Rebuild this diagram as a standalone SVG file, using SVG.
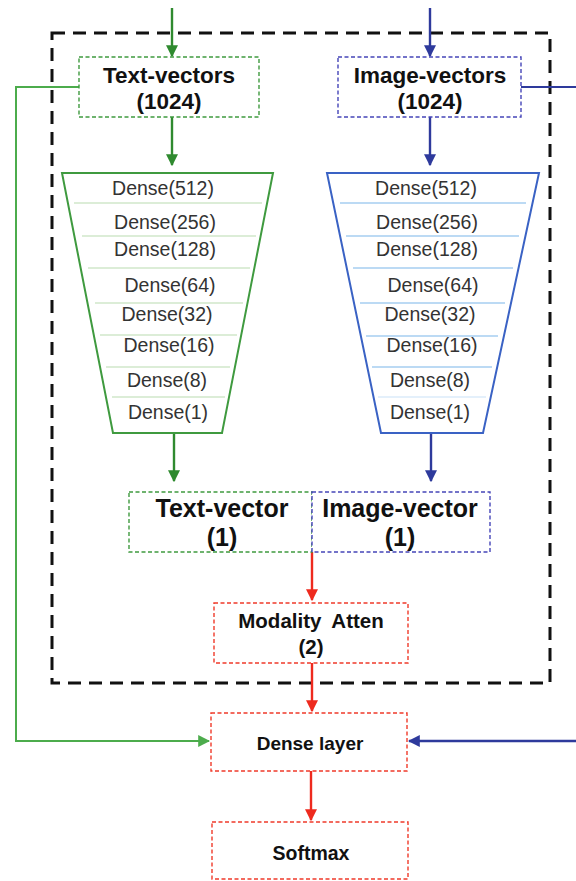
<svg xmlns="http://www.w3.org/2000/svg" width="576" height="881" viewBox="0 0 576 881">
<style>
.tb{font-family:"Liberation Sans",Arial,sans-serif;font-weight:bold;fill:#111;text-anchor:middle}
.dn{font-family:"Liberation Sans",Arial,sans-serif;font-size:19.5px;fill:#333;text-anchor:middle}
.gbox{fill:#fff;stroke:#3f9a3f;stroke-width:1.4;stroke-dasharray:4 2.5}
.bbox{fill:#fff;stroke:#4545b8;stroke-width:1.4;stroke-dasharray:4 2.5}
.rbox{fill:#fff;stroke:#f03a2a;stroke-width:1.4;stroke-dasharray:4 2.5}
.ga{stroke:#2f8a2f;stroke-width:2.4;fill:none}
.ba{stroke:#2e3a9c;stroke-width:2.4;fill:none}
.ra{stroke:#ee2a1e;stroke-width:2.4;fill:none}
.gl{stroke:#b9dcb0;stroke-width:1.2}
.bl{stroke:#7ab6ea;stroke-width:1.2}
</style>
<defs>
<marker id="mg" viewBox="0 0 10 10" refX="9" refY="5" markerWidth="5" markerHeight="5" orient="auto" markerUnits="strokeWidth"><path d="M0,0 L10,5 L0,10 Z" fill="#2f8a2f"/></marker>
<marker id="mg2" viewBox="0 0 10 10" refX="9" refY="5" markerWidth="6" markerHeight="6" orient="auto" markerUnits="strokeWidth"><path d="M0,0 L10,5 L0,10 Z" fill="#4cac4c"/></marker>
<marker id="mb" viewBox="0 0 10 10" refX="9" refY="5" markerWidth="5" markerHeight="5" orient="auto" markerUnits="strokeWidth"><path d="M0,0 L10,5 L0,10 Z" fill="#2e3a9c"/></marker>
<marker id="mr" viewBox="0 0 10 10" refX="9" refY="5" markerWidth="5" markerHeight="5" orient="auto" markerUnits="strokeWidth"><path d="M0,0 L10,5 L0,10 Z" fill="#ee2a1e"/></marker>
</defs>
<rect width="576" height="881" fill="#fff"/>

<g id="outer-frame">
<rect x="52" y="33" width="498" height="650" fill="none" stroke="#111" stroke-width="3" stroke-dasharray="13 8"/>
</g>

<g id="connectors">
<line class="ga" x1="172" y1="8" x2="172" y2="56" marker-end="url(#mg)"/>
<line class="ga" x1="172" y1="117" x2="172" y2="165" marker-end="url(#mg)"/>
<line class="ba" x1="430" y1="8" x2="430" y2="56" marker-end="url(#mb)"/>
<line class="ba" x1="430" y1="117" x2="430" y2="165" marker-end="url(#mb)"/>
<line class="ga" x1="174" y1="433" x2="174" y2="481" marker-end="url(#mg)"/>
<line class="ba" x1="431" y1="433" x2="431" y2="481" marker-end="url(#mb)"/>
<line class="ra" x1="312" y1="552" x2="312" y2="600" marker-end="url(#mr)"/>
<line class="ra" x1="312" y1="663" x2="312" y2="711" marker-end="url(#mr)"/>
<line class="ra" x1="311" y1="771" x2="311" y2="820" marker-end="url(#mr)"/>
<polyline points="79,87 16,87 16,741 209,741" fill="none" stroke="#4cac4c" stroke-width="2" marker-end="url(#mg2)"/>
<line x1="521" y1="87" x2="576" y2="87" stroke="#2e3a9c" stroke-width="2"/>
<line x1="576" y1="741" x2="409" y2="741" stroke="#2e3a9c" stroke-width="2.4" marker-end="url(#mb)"/>
</g>

<g id="text-vectors">
<rect class="gbox" x="79" y="57" width="180" height="60"/>
<text class="tb" x="169" y="83" font-size="22.5">Text-vectors</text>
<text class="tb" x="169" y="109" font-size="22.5">(1024)</text>
</g>

<g id="image-vectors">
<rect class="bbox" x="338" y="57" width="183" height="60"/>
<text class="tb" x="430" y="83" font-size="22.5">Image-vectors</text>
<text class="tb" x="430" y="109" font-size="22.5">(1024)</text>
</g>

<g id="text-dense-stack">
<polygon points="62,173 273,173 222,433 113,433" fill="#fff" stroke="#3f9a3f" stroke-width="2"/>
<line class="gl" x1="74" y1="203" x2="262" y2="203"/>
<line class="gl" x1="82" y1="236" x2="256" y2="236"/>
<line class="gl" x1="88" y1="268" x2="250" y2="268"/>
<line class="gl" x1="95" y1="303" x2="243" y2="303"/>
<line class="gl" x1="100" y1="335" x2="237" y2="335"/>
<line class="gl" x1="106" y1="367" x2="230" y2="367"/>
<line class="gl" x1="112" y1="397" x2="225" y2="397"/>
<text class="dn" x="163" y="195">Dense(512)</text>
<text class="dn" x="165" y="229">Dense(256)</text>
<text class="dn" x="165" y="256">Dense(128)</text>
<text class="dn" x="170" y="292">Dense(64)</text>
<text class="dn" x="167" y="321">Dense(32)</text>
<text class="dn" x="169" y="352">Dense(16)</text>
<text class="dn" x="167" y="387">Dense(8)</text>
<text class="dn" x="168" y="419">Dense(1)</text>
</g>

<g id="image-dense-stack">
<polygon points="327,173 539,173 483,433 381,433" fill="#fff" stroke="#3a62c4" stroke-width="2"/>
<line class="bl" x1="340" y1="203" x2="526" y2="203"/>
<line class="bl" x1="346" y1="236" x2="519" y2="236"/>
<line class="bl" x1="353" y1="268" x2="513" y2="268"/>
<line class="bl" x1="360" y1="303" x2="505" y2="303"/>
<line class="bl" x1="366" y1="336" x2="498" y2="336"/>
<line class="bl" x1="372" y1="367" x2="492" y2="367"/>
<line class="bl" x1="378" y1="397" x2="486" y2="397" stroke-opacity="0.4"/>
<text class="dn" x="426" y="195">Dense(512)</text>
<text class="dn" x="427" y="229">Dense(256)</text>
<text class="dn" x="427" y="256">Dense(128)</text>
<text class="dn" x="433" y="292">Dense(64)</text>
<text class="dn" x="430" y="321">Dense(32)</text>
<text class="dn" x="432" y="352">Dense(16)</text>
<text class="dn" x="430" y="387">Dense(8)</text>
<text class="dn" x="430" y="419">Dense(1)</text>
</g>

<g id="text-vector">
<rect class="gbox" x="129" y="492" width="183" height="60"/>
<text class="tb" x="222" y="517" font-size="25">Text-vector</text>
<text class="tb" x="222" y="546" font-size="25">(1)</text>
</g>

<g id="image-vector">
<rect class="bbox" x="312" y="492" width="178" height="60"/>
<text class="tb" x="400" y="517" font-size="25">Image-vector</text>
<text class="tb" x="400" y="546" font-size="25">(1)</text>
</g>

<g id="modality-atten">
<rect class="rbox" x="214" y="603" width="194" height="60"/>
<text class="tb" x="311" y="628" font-size="20.5" word-spacing="5">Modality Atten</text>
<text class="tb" x="311" y="654" font-size="20.5">(2)</text>
</g>

<g id="dense-layer">
<rect class="rbox" x="211" y="713" width="196" height="58"/>
<text class="tb" x="310" y="750" font-size="19">Dense layer</text>
</g>

<g id="softmax">
<rect class="rbox" x="212" y="822" width="196" height="57"/>
<text class="tb" x="311" y="860" font-size="19.5">Softmax</text>
</g>
</svg>
